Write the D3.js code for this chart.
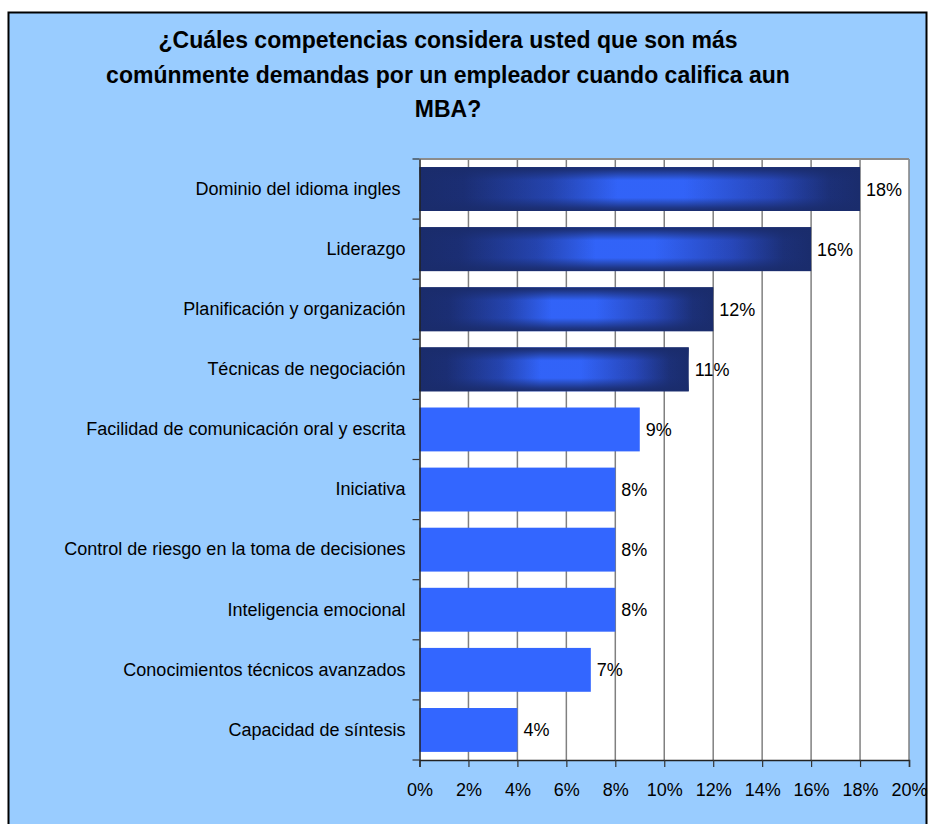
<!DOCTYPE html>
<html>
<head>
<meta charset="utf-8">
<script src="https://cdn.jsdelivr.net/npm/d3@7"></script>
<style>
  body { margin: 0; background: #fff; }
  svg text { font-family: "Liberation Sans", Arial, sans-serif; fill: #000; }
</style>
</head>
<body>
<script>
// Chart data
var titleLines = [
  "¿Cuáles competencias considera usted que son más",
  "comúnmente demandas por un empleador cuando califica aun",
  "MBA?"
];
var categories = [
  "Dominio del idioma ingles ",
  "Liderazgo",
  "Planificación y organización",
  "Técnicas de negociación",
  "Facilidad de comunicación oral y escrita",
  "Iniciativa",
  "Control de riesgo en la toma de decisiones",
  "Inteligencia emocional",
  "Conocimientos técnicos avanzados",
  "Capacidad de síntesis"
];
var values = [18, 16, 12, 11, 9, 8, 8, 8, 7, 4];
var xTicks = [0, 2, 4, 6, 8, 10, 12, 14, 16, 18, 20];

// Layout
var W = 928, H = 824;
var plot = { left: 419.5, right: 909, top: 159, bottom: 760 };

var svg = d3.select("body").append("svg")
  .attr("width", W)
  .attr("height", H);

// gradients for the highlighted bars
var defs = svg.append("defs");
var gh = defs.append("linearGradient").attr("id", "gradH")
  .attr("x1", 0).attr("x2", 1).attr("y1", 0).attr("y2", 0);
[[0, "#1a2c6c"], [0.1, "#1b2e74"], [0.3, "#2545b2"], [0.45, "#3366ff"],
 [0.6, "#3366ff"], [0.8, "#2848bc"], [0.93, "#1c3078"], [1, "#1a2c6c"]].forEach(function (s) {
  gh.append("stop").attr("offset", s[0]).attr("stop-color", s[1]);
});
var gv = defs.append("linearGradient").attr("id", "gradV")
  .attr("x1", 0).attr("x2", 0).attr("y1", 0).attr("y2", 1);
[[0, 1], [0.08, 0.8], [0.3, 0.05], [0.7, 0.05], [0.92, 0.8], [1, 1]].forEach(function (s) {
  gv.append("stop").attr("offset", s[0]).attr("stop-color", "#1a2c6c").attr("stop-opacity", s[1]);
});

// background frame
svg.append("rect")
  .attr("x", 8.5).attr("y", 12.5)
  .attr("width", 918).attr("height", 830)
  .attr("fill", "#99ccff")
  .attr("stroke", "#000")
  .attr("stroke-width", 2);

// title
svg.append("g").selectAll("text")
  .data(titleLines)
  .enter().append("text")
  .attr("x", 448)
  .attr("y", function (d, i) { return 48 + i * 34.5; })
  .attr("text-anchor", "middle")
  .style("font-size", "23px")
  .style("font-weight", "bold")
  .text(function (d) { return d; });

// scales
var x = d3.scaleLinear().domain([0, 20]).range([plot.left, plot.right]);
var y = d3.scaleBand().domain(categories)
  .range([plot.top, plot.bottom])
  .paddingInner(0.27)
  .paddingOuter(0.135);

// plot area
svg.append("rect")
  .attr("x", plot.left).attr("y", plot.top)
  .attr("width", plot.right - plot.left)
  .attr("height", plot.bottom - plot.top)
  .attr("fill", "#fff");

// gridlines
svg.append("g").selectAll("line")
  .data(xTicks.slice(1))
  .enter().append("line")
  .attr("x1", function (d) { return x(d); })
  .attr("x2", function (d) { return x(d); })
  .attr("y1", plot.top).attr("y2", plot.bottom)
  .attr("stroke", "#808080")
  .attr("stroke-width", 1.5);

svg.append("line")
  .attr("x1", plot.left).attr("x2", plot.right)
  .attr("y1", plot.top).attr("y2", plot.top)
  .attr("stroke", "#8c8c8c")
  .attr("stroke-width", 2);

// bars
var bars = svg.append("g").selectAll("g")
  .data(values)
  .enter().append("g");

bars.append("rect")
  .attr("x", x(0))
  .attr("y", function (d, i) { return y(categories[i]); })
  .attr("width", function (d) { return x(d) - x(0); })
  .attr("height", y.bandwidth())
  .attr("fill", function (d, i) { return i < 4 ? "url(#gradH)" : "#3366ff"; });

bars.filter(function (d, i) { return i < 4; }).append("rect")
  .attr("x", x(0))
  .attr("y", function (d, i) { return y(categories[i]); })
  .attr("width", function (d) { return x(d) - x(0); })
  .attr("height", y.bandwidth())
  .attr("fill", "url(#gradV)");

// value labels
bars.append("text")
  .attr("x", function (d) { return x(d) + 6; })
  .attr("y", function (d, i) { return y(categories[i]) + y.bandwidth() / 2; })
  .attr("dy", "0.36em")
  .style("font-size", "18px")
  .text(function (d) { return d + "%"; });

// x axis
var xAxis = d3.axisBottom(x)
  .tickValues(xTicks)
  .tickSize(7)
  .tickPadding(16)
  .tickFormat(function (d) { return d + "%"; });

var gx = svg.append("g")
  .attr("transform", "translate(0," + plot.bottom + ")")
  .call(xAxis);
gx.select(".domain").attr("stroke", "#222").attr("stroke-width", 1.5);
gx.selectAll(".tick line").attr("stroke", "#333").attr("stroke-width", 1.2);
gx.selectAll(".tick text")
  .style("font-size", "18px")
  .style("font-family", "'Liberation Sans', Arial, sans-serif")
  .attr("fill", "#000");

// y axis with ticks between categories
var yAxis = d3.axisLeft(y).tickSize(0).tickPadding(14);
var gy = svg.append("g")
  .attr("transform", "translate(" + plot.left + ",0)")
  .call(yAxis);
gy.select(".domain").attr("stroke", "#222").attr("stroke-width", 1.5);
gy.selectAll(".tick text")
  .style("font-size", "18px")
  .style("font-family", "'Liberation Sans', Arial, sans-serif")
  .style("white-space", "pre")
  .attr("fill", "#000");

var boundaries = d3.range(categories.length + 1).map(function (i) {
  return plot.top + i * (plot.bottom - plot.top) / categories.length;
});
gy.selectAll(".sep")
  .data(boundaries)
  .enter().append("line")
  .attr("class", "sep")
  .attr("x1", -7).attr("x2", 0)
  .attr("y1", function (d) { return d; })
  .attr("y2", function (d) { return d; })
  .attr("stroke", "#333")
  .attr("stroke-width", 1.2);
</script>
</body>
</html>
